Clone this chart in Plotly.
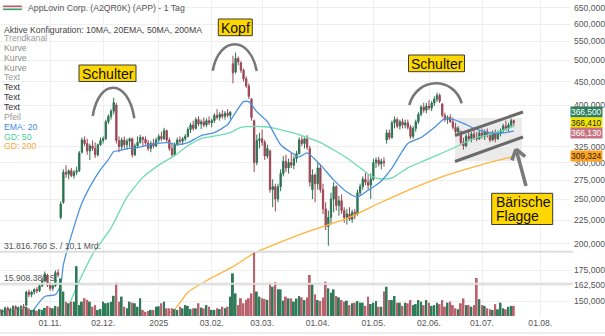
import math
import pandas as pd
import plotly.graph_objects as go

# ---------------- data ----------------
HOLIDAYS = ["2024-11-28", "2024-12-25", "2025-01-01", "2025-01-09", "2025-01-20",
            "2025-02-17", "2025-04-18", "2025-05-26", "2025-06-19", "2025-07-04"]

open_ = [
    # Oct 2024
    143, 142, 143, 145, 143, 144, 146, 144, 145, 146, 147, 157, 155, 157, 159, 158, 162, 166, 171,
    # Nov
    163, 160, 162, 173, 228, 246, 286, 283, 288, 281, 286, 288, 316, 336, 330, 318, 326, 322, 312, 328,
    # Dec
    335, 338, 368, 378, 388, 400, 335, 325, 336, 328, 334, 338, 312, 326, 332, 340, 337, 331, 322, 330, 326,
    # Jan 2025
    336, 342, 338, 352, 336, 322, 312, 328, 336, 334, 338, 342, 354, 362, 356, 372, 364, 368, 362, 370,
    # Feb
    366, 370, 380, 376, 382, 378, 384, 380, 492, 472, 505, 494, 476, 456, 440, 412, 370, 300, 335,
    # Mar
    338, 332, 310, 318, 262, 266, 250, 266, 284, 302, 292, 300, 296, 306, 314, 336, 330, 338, 322, 262, 282,
    # Apr
    270, 292, 262, 238, 218, 228, 250, 266, 242, 248, 236, 228, 232, 226, 234, 232, 258, 266, 276, 272, 268,
    # May
    276, 300, 304, 298, 302, 336, 348, 340, 366, 372, 360, 368, 362, 366, 358, 342, 356, 368, 382, 396, 390,
    # Jun
    398, 394, 404, 412, 420, 402, 380, 372, 376, 368, 358, 350, 350, 332, 326, 342, 338, 346, 340, 338,
    # Jul
    348, 342, 350, 344, 336, 348, 338, 348, 352, 360, 356, 362, 370,
]
high = [
    145, 144, 146, 146, 145, 147, 147, 146, 147, 148, 158, 159, 158, 160, 161, 163, 168, 174, 172,
    165, 163, 175, 176, 247, 290, 296, 290, 292, 289, 294, 318, 340, 342, 338, 330, 335, 332, 330, 340,
    342, 372, 382, 392, 415, 404, 342, 340, 342, 338, 340, 340, 330, 342, 345, 342, 342, 336, 334, 338, 340,
    346, 350, 357, 354, 340, 330, 332, 340, 342, 341, 346, 358, 366, 370, 376, 378, 372, 376, 374, 378,
    374, 384, 392, 386, 390, 388, 392, 388, 512, 520, 510, 498, 480, 462, 446, 414, 372, 345, 348,
    354, 336, 328, 320, 276, 270, 270, 290, 310, 312, 306, 315, 310, 318, 340, 342, 340, 344, 326, 290, 284,
    300, 298, 270, 246, 236, 258, 272, 268, 254, 256, 240, 238, 240, 237, 238, 262, 270, 280, 285, 282, 284,
    306, 308, 309, 306, 308, 354, 354, 370, 378, 376, 372, 374, 372, 372, 362, 360, 372, 386, 400, 405, 404,
    410, 408, 418, 426, 424, 404, 385, 380, 382, 376, 366, 360, 352, 340, 346, 352, 350, 354, 350, 352,
    356, 354, 356, 350, 352, 354, 352, 356, 364, 370, 366, 374, 372,
]
low = [
    141, 140, 142, 142, 141, 143, 143, 142, 143, 144, 146, 153, 153, 155, 156, 157, 161, 165, 161,
    158, 158, 161, 169, 226, 244, 278, 276, 279, 277, 282, 286, 314, 326, 312, 304, 318, 307, 309, 326,
    330, 336, 364, 372, 382, 330, 316, 320, 322, 320, 324, 308, 310, 324, 330, 326, 328, 318, 316, 322, 324,
    332, 334, 336, 332, 318, 308, 310, 326, 330, 328, 334, 340, 348, 352, 354, 360, 355, 358, 358, 362,
    358, 366, 372, 370, 374, 372, 376, 372, 446, 468, 488, 470, 450, 436, 412, 370, 286, 296, 322,
    326, 304, 306, 258, 240, 235, 246, 260, 280, 286, 284, 292, 290, 300, 312, 326, 322, 320, 266, 250, 246,
    262, 258, 232, 214, 198, 220, 234, 236, 230, 232, 222, 220, 224, 222, 226, 230, 254, 262, 268, 262, 250,
    274, 292, 294, 290, 294, 330, 336, 338, 356, 356, 354, 356, 356, 354, 338, 338, 350, 364, 378, 385, 384,
    390, 388, 398, 406, 404, 376, 368, 364, 366, 354, 346, 344, 328, 320, 324, 334, 332, 336, 334, 336,
    338, 336, 340, 332, 334, 332, 336, 342, 348, 352, 350, 358, 360,
]
close = [
    142, 143, 145, 143, 144, 146, 144, 145, 146, 145, 157, 155, 157, 159, 158, 162, 166, 172, 163,
    160, 162, 173, 171, 244, 286, 283, 288, 281, 286, 288, 315, 336, 330, 318, 326, 322, 312, 328, 335,
    338, 368, 378, 388, 405, 335, 325, 336, 328, 334, 338, 312, 326, 332, 340, 337, 331, 322, 330, 326, 336,
    342, 338, 352, 336, 322, 312, 328, 336, 334, 338, 342, 354, 362, 356, 372, 364, 368, 362, 370, 366,
    370, 380, 376, 382, 378, 384, 380, 386, 470, 505, 496, 476, 456, 440, 418, 376, 300, 335, 338,
    332, 310, 322, 262, 266, 250, 266, 284, 302, 292, 300, 296, 306, 314, 336, 330, 338, 324, 272, 282, 270,
    292, 262, 238, 218, 228, 250, 266, 242, 248, 236, 228, 232, 226, 234, 230, 258, 266, 276, 272, 268, 276,
    300, 304, 298, 302, 300, 348, 340, 366, 372, 360, 368, 362, 366, 358, 342, 356, 368, 382, 396, 390, 398,
    394, 404, 412, 420, 408, 380, 372, 376, 368, 358, 350, 356, 332, 326, 342, 338, 346, 340, 338, 348,
    342, 350, 344, 336, 348, 338, 348, 352, 360, 356, 362, 370, 366.5,
]
# volume in millions of shares
volume_m = [
    3.5, 3.0, 4.0, 3.2, 2.8, 3.6, 3.0, 4.2, 3.5, 3.8, 4.5, 3.8, 3.0, 3.2, 2.6, 3.4, 3.0, 4.0, 5.0,
    4.2, 3.8, 5.0, 4.6, 18.6, 12.1, 7.1, 6.3, 7.1, 7.1, 24.7, 5.4, 7.1, 8.8, 8.0, 7.1, 4.6, 5.4, 3.0, 3.5,
    7.1, 6.3, 6.6, 7.0, 10.0, 16.5, 7.1, 9.6, 4.6, 3.8, 7.1, 6.6, 6.3, 4.6, 8.8, 3.0, 2.1, 2.5, 3.0, 3.0, 4.6,
    4.8, 6.3, 7.1, 3.8, 3.8, 3.8, 3.4, 3.0, 4.6, 3.8, 5.4, 5.0, 3.4, 3.8, 3.8, 6.3, 4.2, 3.8, 5.4, 4.6,
    3.0, 3.0, 3.8, 3.4, 4.6, 3.8, 4.6, 9.6, 21.1, 11.2, 5.4, 8.8, 6.3, 8.0, 8.8, 11.2, 31.8, 12.1, 9.6,
    8.8, 8.4, 8.0, 16.5, 14.5, 16.8, 13.2, 13.2, 7.6, 9.6, 8.7, 8.7, 7.1, 8.7, 9.9, 9.2, 7.9, 9.2, 20.3, 15.7, 10.7,
    7.9, 7.4, 9.2, 17.0, 13.7, 11.5, 13.2, 9.9, 9.2, 7.9, 7.1, 7.6, 5.4, 6.3, 6.6, 7.4, 6.6, 6.6, 5.0, 9.6, 5.9,
    6.6, 7.4, 4.6, 4.6, 12.1, 14.5, 7.9, 7.9, 9.9, 6.6, 6.6, 5.0, 6.6, 6.3, 7.9, 5.4, 5.9, 7.9, 7.1, 5.4, 7.9,
    6.6, 5.0, 5.4, 6.6, 5.9, 7.9, 4.6, 6.6, 7.1, 5.4, 3.8, 3.3, 6.3, 8.7, 5.4, 5.4, 4.6, 5.4, 18.8, 8.3,
    5.4, 5.0, 3.8, 3.3, 3.0, 5.9, 3.3, 6.6, 3.8, 3.3, 4.6, 5.0, 5.0,
]

ema20_dates = ["2024-10-21", "2024-10-30", "2024-11-05", "2024-11-07", "2024-11-08", "2024-11-14",
               "2024-11-19", "2024-11-22", "2024-11-29", "2024-12-04", "2024-12-06", "2024-12-10",
               "2024-12-13", "2024-12-19", "2024-12-27", "2025-01-07", "2025-01-14", "2025-01-21",
               "2025-01-28", "2025-02-04", "2025-02-11", "2025-02-13", "2025-02-20", "2025-02-24",
               "2025-02-27", "2025-03-05", "2025-03-12", "2025-03-18", "2025-03-21", "2025-03-26",
               "2025-04-02", "2025-04-09", "2025-04-16", "2025-04-23", "2025-04-29", "2025-05-05",
               "2025-05-07", "2025-05-12", "2025-05-20", "2025-05-28", "2025-06-04", "2025-06-10",
               "2025-06-13", "2025-06-20", "2025-06-26", "2025-07-03", "2025-07-11", "2025-07-18"]
ema20_vals = [136.6, 153.6, 155.0, 162.8, 180.0, 217.5, 245.0, 265.7, 289.6, 304.5, 317.0, 318.5,
              321.8, 323.5, 328.4, 331.6, 328.4, 331.6, 343.4, 348.6, 362.8, 377.6, 406.9, 406.9,
              387.1, 368.2, 328.0, 315.5, 308.6, 315.0, 296.6, 275.2, 259.0, 252.6, 261.2, 270.6,
              277.5, 291.7, 330.1, 340.2, 357.6, 374.2, 372.3, 365.0, 356.0, 349.0, 347.3, 351.0]

gd50_dates = ["2024-11-08", "2024-11-15", "2024-11-25", "2024-12-05", "2024-12-13", "2024-12-23",
              "2025-01-03", "2025-01-13", "2025-01-21", "2025-01-28", "2025-02-05", "2025-02-12",
              "2025-02-19", "2025-02-28", "2025-03-06", "2025-03-13", "2025-03-24", "2025-04-02",
              "2025-04-16", "2025-04-24", "2025-04-30", "2025-05-06", "2025-05-12", "2025-05-20",
              "2025-05-29", "2025-06-06", "2025-06-17", "2025-06-26", "2025-07-07", "2025-07-16",
              "2025-07-18"]
gd50_vals = [137.0, 161.0, 189.4, 216.4, 252.4, 278.6, 298.8, 310.6, 326.4, 338.2, 343.3, 348.6,
             357.6, 359.4, 357.6, 352.3, 343.4, 331.6, 307.1, 292.2, 280.6, 276.4, 277.8, 292.2,
             302.6, 313.1, 326.0, 338.4, 345.4, 356.0, 359.4]

gd200_dates = ["2024-12-24", "2025-01-02", "2025-01-13", "2025-01-21", "2025-01-31", "2025-02-13",
               "2025-02-26", "2025-03-18", "2025-03-31", "2025-04-16", "2025-05-06", "2025-05-22",
               "2025-06-11", "2025-07-01", "2025-07-18"]
gd200_vals = [134.0, 137.0, 144.0, 156.9, 167.5, 178.3, 190.7, 206.0, 215.0, 227.0, 246.0, 264.0,
              282.0, 297.1, 309.324]

marker_values = [366.5, 366.41, 366.13, 309.324]
vol_ref_1 = 31.81676
vol_ref_2 = 15.90838

x_tick_dates = ["2024-11-01", "2024-12-02", "2025-01-02", "2025-02-03", "2025-03-03",
                "2025-04-01", "2025-05-01", "2025-06-02", "2025-07-01", "2025-08-01"]
x_tick_text = ["01.11.", "02.12.", "2025", "03.02.", "03.03.", "01.04.", "01.05.",
               "02.06.", "01.07.", "01.08."]
# 350 and 375 sit fully behind the value markers in the reference
y_ticks = [150, 162.5, 175, 200, 225, 250, 275, 300, 325, 400, 450, 500, 550, 600, 650]

# ---------------- figure ----------------
n = min(len(open_), len(high), len(low), len(close), len(volume_m))
dates = pd.bdate_range("2024-10-07", "2025-07-18", freq="C", holidays=HOLIDAYS)
n = min(n, len(dates))
dates = dates[:n]

GREEN = "#2b7352"
RED = "#9d4655"
vol_colors = []
for i in range(n):
    up = close[i] >= (close[i - 1] if i > 0 else open_[i])
    vol_colors.append("#2f7a58" if up else "#b9636f")

FONT = "Liberation Sans, Arial, sans-serif"
W, H = 570.0, 316.0


def px(x):
    return x / W


def py(y):
    return 1 - y / H


fig = go.Figure()
fig.add_trace(go.Bar(x=dates, y=volume_m[:n], yaxis="y2", marker_color=vol_colors,
                     marker_line_width=0, width=0.72 * 86400000, hoverinfo="skip"))
fig.add_trace(go.Candlestick(x=dates, open=open_[:n], high=high[:n], low=low[:n], close=close[:n],
                             increasing=dict(line=dict(color=GREEN, width=1), fillcolor=GREEN),
                             decreasing=dict(line=dict(color=RED, width=1), fillcolor=RED),
                             hoverinfo="skip"))
fig.add_trace(go.Scatter(x=gd200_dates, y=gd200_vals, mode="lines",
                         line=dict(color="#ffb43c", width=1.3, shape="spline", smoothing=0.6)))
fig.add_trace(go.Scatter(x=gd50_dates, y=gd50_vals, mode="lines",
                         line=dict(color="#6edbb3", width=1.3, shape="spline", smoothing=0.6)))
fig.add_trace(go.Scatter(x=ema20_dates, y=ema20_vals, mode="lines",
                         line=dict(color="#4d92e0", width=1.3, shape="spline", smoothing=0.6)))

shapes = []
annotations = []


def arc(x0, y0, xp, yp, x1, y1):
    cy = (yp - 0.125 * (y0 + y1)) / 0.75
    cx1 = x0 + 0.15 * (x1 - x0)
    cx2 = x1 - 0.15 * (x1 - x0)
    path = (f"M{px(x0)},{py(y0)} C{px(cx1)},{py(cy)} {px(cx2)},{py(cy)} {px(x1)},{py(y1)}")
    return dict(type="path", xref="paper", yref="paper", path=path,
                line=dict(color="#787878", width=2.6))


shapes.append(arc(92.7, 116, 111.7, 87.7, 134.3, 118.3))
shapes.append(arc(212.7, 70.7, 235, 44.3, 256.7, 71))
shapes.append(arc(409.3, 105, 436.7, 83.3, 461.7, 103.3))

# flag area
shapes.append(dict(type="rect", xref="paper", yref="paper", x0=px(455), x1=px(522),
                   y0=py(161), y1=py(118), fillcolor="rgba(205,205,205,0.40)", line_width=0,
                   layer="below"))


def seg(x0, y0, x1, y1, color, width):
    return dict(type="line", xref="paper", yref="paper", x0=px(x0), y0=py(y0), x1=px(x1), y1=py(y1),
                line=dict(color=color, width=width))


shapes.append(seg(455, 135.5, 523, 112, "#6a6a6a", 3))
shapes.append(seg(455, 161.5, 523, 137, "#6a6a6a", 3))
# arrow
shapes.append(seg(526, 186, 516, 149, "#7a7a7a", 3.5))
shapes.append(seg(516, 149, 511.9, 160.3, "#7a7a7a", 3.5))
shapes.append(seg(516, 149, 525.2, 156.7, "#7a7a7a", 3.5))

YEL = "#ffd700"


def box(x0, y0, x1, y1):
    return dict(type="rect", xref="paper", yref="paper", x0=px(x0), x1=px(x1), y0=py(y1), y1=py(y0),
                fillcolor=YEL, line=dict(color="#3a3a3a", width=1))


def txt(text, x, y, size, color, xanchor="center"):
    return dict(text=text, xref="paper", yref="paper", x=px(x), y=py(y), xanchor=xanchor,
                yanchor="middle", showarrow=False, font=dict(family=FONT, size=size, color=color))


shapes.append(box(79, 65, 136, 81.5))
annotations.append(txt("Schulter", 107.5, 73.5, 14, "#111"))
shapes.append(box(218.3, 19, 252.3, 35.7))
annotations.append(txt("Kopf", 235.3, 27.6, 14, "#111"))
shapes.append(box(408.5, 55, 464.5, 71.7))
annotations.append(txt("Schulter", 436.5, 63.6, 14, "#111"))
shapes.append(box(491.7, 193.3, 552.7, 224.5))
annotations.append(txt("Bärische", 494, 201.8, 14, "#111", "left"))
annotations.append(txt("Flagge", 494, 215.8, 14, "#111", "left"))

# volume reference lines
for v in (vol_ref_1, vol_ref_2):
    shapes.append(dict(type="line", xref="paper", yref="y2", x0=0, x1=573 / W, y0=v, y1=v,
                       line=dict(color="#dddddd", width=2)))
annotations.append(dict(text="31.816.760 S. / 10,1 Mrd.", xref="paper", yref="y2", x=px(2), y=vol_ref_1,
                        xanchor="left", yanchor="bottom", showarrow=False, yshift=-1,
                        font=dict(family=FONT, size=8.6, color="#555")))
annotations.append(dict(text="15.908.380 S.", xref="paper", yref="y2", x=px(2), y=vol_ref_2,
                        xanchor="left", yanchor="bottom", showarrow=False, yshift=-1,
                        font=dict(family=FONT, size=8.6, color="#555")))

shapes.append(dict(type="line", xref="paper", yref="paper", x0=0, x1=605 / W, y0=py(333), y1=py(333),
                   line=dict(color="#eeeeee", width=2)))

# header & legend texts
shapes.append(seg(3, 6.3, 22, 6.3, "#c25a66", 1.6))
shapes.append(seg(3, 9.3, 22, 9.3, "#3f9a72", 1.6))
annotations.append(txt("AppLovin Corp. (A2QR0K) (APP) - 1 Tag", 26, 8.3, 8.7, "#555", "left"))
annotations.append(txt("Aktive Konfiguration: 10MA, 20EMA, 50MA, 200MA", 2, 29.6, 8.7, "#444", "left"))
legend_items = [
    ("Trendkanal", "#9a9a9a", 38.2),
    ("Kurve", "#8c8c8c", 48.3),
    ("Kurve", "#8c8c8c", 57.8),
    ("Kurve", "#8c8c8c", 67.5),
    ("Text", "#9a9a9a", 77.3),
    ("Text", "#333333", 87.3),
    ("Text", "#333333", 97.2),
    ("Text", "#333333", 107.0),
    ("Pfeil", "#9a9a9a", 116.7),
    ("EMA: 20", "#3f8ae0", 126.7),
    ("GD: 50", "#44d197", 136.5),
    ("GD: 200", "#f7a93a", 146.2),
]
for t, c, y in legend_items:
    annotations.append(txt(t, 2, y, 8.7, c, "left"))

# right-side value markers (stacked)
marker_styles = [("#2e8060", "white", 10.5), ("#f2e600", "#222", 0), ("#c77482", "white", -10.5),
                 ("#ffa31a", "#222", 0)]
for v, (bg, fg, shift) in zip(marker_values, marker_styles):
    annotations.append(dict(text=f"{v:.3f}".replace(".", ","), xref="paper", yref="y", x=1.0,
                            y=math.log10(v), xanchor="left", yanchor="middle", yshift=shift,
                            showarrow=False, bgcolor=bg, borderpad=0,
                            font=dict(family=FONT, size=8.4, color=fg)))

fig.update_layout(
    width=605, height=336,
    margin=dict(l=0, r=35, t=0, b=20),
    paper_bgcolor="white", plot_bgcolor="white",
    showlegend=False, hovermode=False,
    separators=",.",
    font=dict(family=FONT, size=8.6, color="#555"),
    shapes=shapes, annotations=annotations,
    xaxis=dict(type="date",
               range=["2024-10-07 02:00", "2025-08-18 05:00"],
               rangebreaks=[dict(bounds=["sat", "mon"]), dict(values=HOLIDAYS)],
               tickvals=x_tick_dates, ticktext=x_tick_text,
               showgrid=True, gridcolor="#efefef", gridwidth=1,
               zeroline=False, showline=False, ticks="",
               rangeslider=dict(visible=False),
               tickfont=dict(family=FONT, size=8.6, color="#555")),
    yaxis=dict(type="log", side="right",
               range=[math.log10(139.3), math.log10(676.5)],
               tickvals=y_ticks, tickformat=".3f",
               showgrid=True, gridcolor="#efefef", gridwidth=1,
               zeroline=False, showline=False, ticks="", ticklabelstandoff=3,
               tickfont=dict(family=FONT, size=8.6, color="#555")),
    yaxis2=dict(overlaying="y", range=[0, 316 / 2.02], visible=False, fixedrange=True),
)

fig.write_html("out.html")
